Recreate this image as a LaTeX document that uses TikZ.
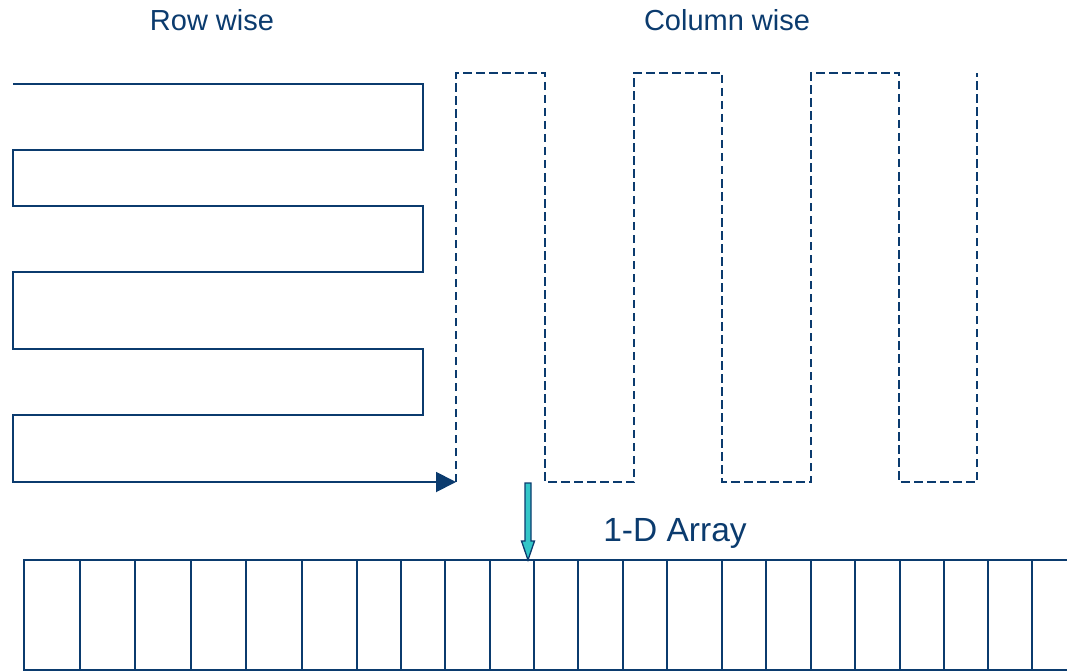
\documentclass[tikz,border=0pt]{standalone}
\usepackage{fontspec}
\setmainfont{Liberation Sans}
\usepackage{xcolor}
\usepackage{tikz}
\usetikzlibrary{arrows.meta,positioning}
\definecolor{navyline}{HTML}{0B3B6E}
\definecolor{cyanfill}{HTML}{33C6C8}
\tikzset{
  walk/.style={draw=navyline, line width=1.9pt, line join=miter},
  rowwalk/.style={walk, -{Triangle[length=20pt, width=20pt]}},
  colwalk/.style={walk, dash pattern=on 8.5pt off 4.5pt},
  cellline/.style={draw=navyline, line width=1.9pt},
  pointer/.style={draw=navyline, fill=cyanfill, line width=1.3pt, line join=miter},
  title/.style={text=navyline, font=\fontsize{29}{33}\selectfont, anchor=base, inner sep=0pt},
  bigtitle/.style={title, font=\fontsize{33.5}{38}\selectfont}
}
\begin{document}
\begin{tikzpicture}[x=1pt, y=-1pt]
  \useasboundingbox (0,0) rectangle (1067,671);

  % headings
  \node[title] (rowlabel) at (212,31) {Row wise};
  \node[title] (collabel) at (727,31) {Column wise};
  \node[bigtitle] (arraylabel) at (675,541) {1-D Array};

  % row-major traversal
  \coordinate (rowstart) at (13,84);
  \coordinate (rowend) at (456,482);
  \draw[rowwalk] (rowstart) -- (423,84) -- (423,150) -- (13,150) -- (13,206)
    -- (423,206) -- (423,272) -- (13,272) -- (13,349) -- (423,349)
    -- (423,415) -- (13,415) -- (13,482) -- (rowend);

  % column-major traversal
  \coordinate (colend) at (977,73);
  \draw[colwalk] (rowend) -- (456,73) -- (545,73) -- (545,482) -- (634,482)
    -- (634,73) -- (722,73) -- (722,482) -- (811,482) -- (811,73)
    -- (899,73) -- (899,482) -- (977,482) -- (colend);

  % flattened array
  \coordinate (arrNW) at (24,560);
  \coordinate (arrSW) at (24,670);
  \draw[cellline] (1067,560) -- (arrNW) -- (arrSW) -- (1067,670);
  \foreach \x in {80,135,191,246,302,357,401,445,490,534,578,623,667,722,766,811,855,900,944,988,1032} {
    \draw[cellline] (\x,560) -- (\x,670);
  }

  % pointer into the array
  \coordinate (tip) at (528,560);
  \draw[pointer] (525,483) -- (531,483) -- (531,541) -- (534.5,541) -- (tip)
    -- (521.5,541) -- (525,541) -- cycle;
\end{tikzpicture}
\end{document}
